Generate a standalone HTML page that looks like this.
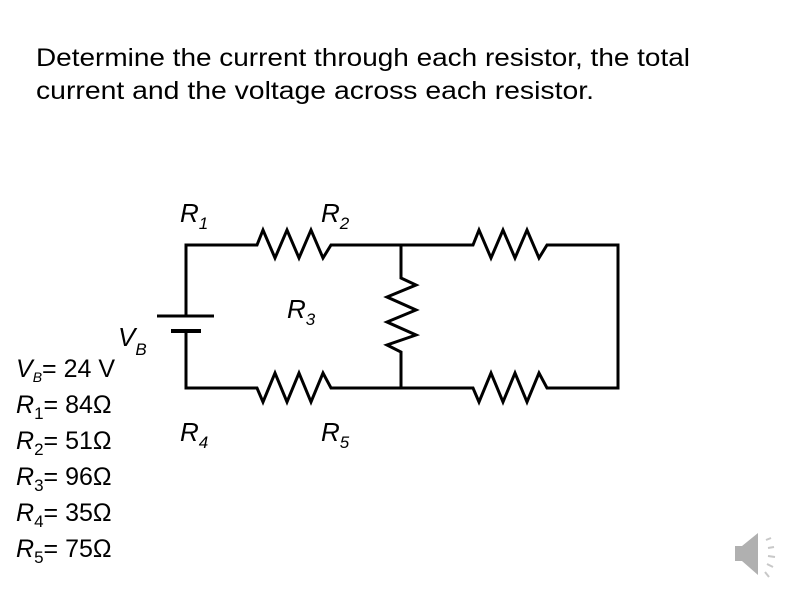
<!DOCTYPE html>
<html><head><style>
body{margin:0;background:#fff;}
svg{display:block;}
text{font-family:"Liberation Sans",sans-serif;fill:#000;}
</style></head><body>
<svg width="794" height="595" viewBox="0 0 794 595" xmlns="http://www.w3.org/2000/svg">
<text x="36" y="66" font-size="25" textLength="654" lengthAdjust="spacingAndGlyphs">Determine the current through each resistor, the total</text>
<text x="36" y="99" font-size="25" textLength="558" lengthAdjust="spacingAndGlyphs">current and the voltage across each resistor.</text>

<g fill="none" stroke="#000" stroke-width="3" stroke-linejoin="miter">
<polyline points="186,316 186,245 257,245 263,230 275,258 287,230 299,258 311,230 323,258 331,245 473,245 479,230 491,258 503,230 515,258 527,230 539,258 547,245 618,245 618,388 547,388 539,373 527,402 515,373 503,402 491,373 479,402 473,388 331,388 323,373 311,402 299,373 287,402 275,373 263,402 257,388 186,388 186,331"/>
<polyline points="401,245 401,278 416,285 387,297 416,310 387,322 416,335 387,345 401,352 401,388"/>
<line x1="157" y1="316" x2="214" y2="316"/>
<line x1="171" y1="331" x2="201" y2="331" stroke-width="4"/>
</g>

<g font-size="26" font-style="italic">
<text x="180" y="222">R<tspan font-size="17" dy="7">1</tspan></text>
<text x="321" y="222">R<tspan font-size="17" dy="7">2</tspan></text>
<text x="287" y="318">R<tspan font-size="17" dy="7">3</tspan></text>
<text x="180" y="441">R<tspan font-size="17" dy="7">4</tspan></text>
<text x="321" y="441">R<tspan font-size="17" dy="7">5</tspan></text>
<text x="118" y="346">V<tspan font-size="17" dy="9">B</tspan></text>
</g>

<g font-size="25">
<text x="16" y="377"><tspan font-style="italic">V</tspan><tspan font-size="14" font-style="italic" dy="5">B</tspan><tspan dy="-5">= 24 V</tspan></text>
<text x="16" y="413"><tspan font-style="italic">R</tspan><tspan font-size="17" dy="6">1</tspan><tspan dy="-6">= 84Ω</tspan></text>
<text x="16" y="449"><tspan font-style="italic">R</tspan><tspan font-size="17" dy="6">2</tspan><tspan dy="-6">= 51Ω</tspan></text>
<text x="16" y="485"><tspan font-style="italic">R</tspan><tspan font-size="17" dy="6">3</tspan><tspan dy="-6">= 96Ω</tspan></text>
<text x="16" y="521"><tspan font-style="italic">R</tspan><tspan font-size="17" dy="6">4</tspan><tspan dy="-6">= 35Ω</tspan></text>
<text x="16" y="557"><tspan font-style="italic">R</tspan><tspan font-size="17" dy="6">5</tspan><tspan dy="-6">= 75Ω</tspan></text>
</g>

<g fill="#b0b0b0">
<polygon points="735,546 742,546 758,533 758,575 742,561 735,561"/>
<g stroke="#c8c8c8" stroke-width="2">
<line x1="766" y1="540" x2="771" y2="538"/>
<line x1="768" y1="548" x2="774" y2="547"/>
<line x1="768" y1="556" x2="775" y2="557"/>
<line x1="767" y1="564" x2="773" y2="567"/>
<line x1="765" y1="572" x2="769" y2="577"/>
</g>
</g>
</svg>
</body></html>
